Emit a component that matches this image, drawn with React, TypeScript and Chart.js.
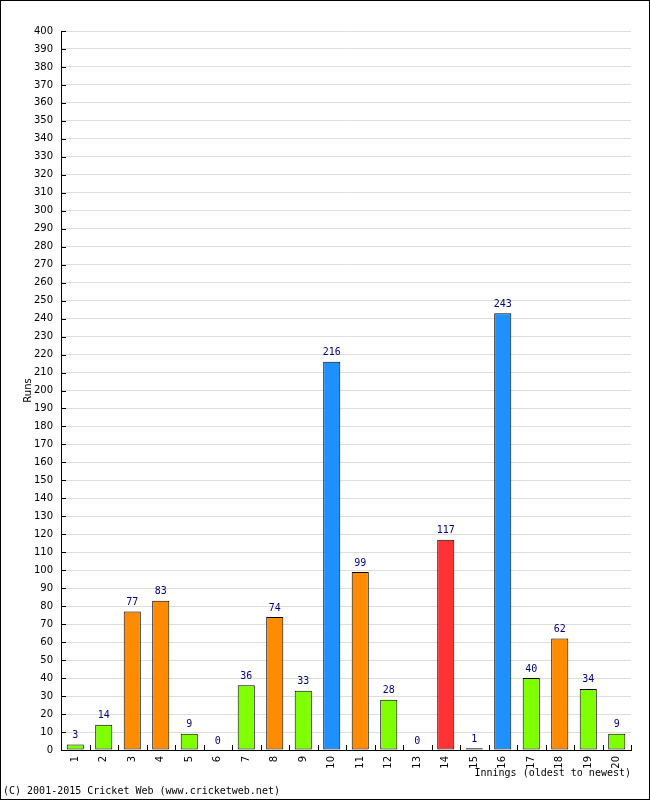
import React, { useEffect, useRef } from "react";
import { Chart, registerables } from "chart.js";

Chart.register(...registerables);

const innings: string[] = ["1", "2", "3", "4", "5", "6", "7", "8", "9", "10", "11", "12", "13", "14", "15", "16", "17", "18", "19", "20"];
const runs: number[] = [3, 14, 77, 83, 9, 0, 36, 74, 33, 216, 99, 28, 0, 117, 1, 243, 40, 62, 34, 9];
const yMin = 0;
const yMax = 400;
const yStep = 10;
const yAxisTitle = "Runs";
const xAxisTitle = "Innings (oldest to newest)";
const footerText = "(C) 2001-2015 Cricket Web (www.cricketweb.net)";

function barColor(v: number): string {
  if (v >= 200) return "#1E90FF";
  if (v >= 100) return "#FF3333";
  if (v >= 50) return "#FF8C00";
  return "#80FF00";
}

const marksPlugin = {
  id: "marks",
  afterDatasetsDraw(chart: any) {
    const ctx = chart.ctx;
    const xs = chart.scales.x;
    const ys = chart.scales.y;
    ctx.save();
    ctx.strokeStyle = "#000";
    ctx.lineWidth = 1;
    ctx.beginPath();
    ys.ticks.forEach((_t: any, i: number) => {
      const py = Math.round(ys.getPixelForTick(i)) + 0.5;
      ctx.moveTo(xs.left, py);
      ctx.lineTo(xs.left + 5, py);
    });
    for (let i = 0; i <= innings.length; i++) {
      const px = Math.round(xs.getPixelForValue(i - 0.5)) + 0.5;
      ctx.moveTo(px, ys.bottom);
      ctx.lineTo(px, ys.bottom - 5);
    }
    ctx.stroke();
    const meta = chart.getDatasetMeta(0);
    ctx.fillStyle = "#000080";
    ctx.font = '10px "DejaVu Sans Mono"';
    ctx.textAlign = "center";
    ctx.textBaseline = "bottom";
    meta.data.forEach((el: any, i: number) => {
      ctx.fillText(String(runs[i]), el.x, el.y - 4);
    });
    ctx.restore();
  },
};

export default function App() {
  const ref = useRef<HTMLCanvasElement | null>(null);
  useEffect(() => {
    document.body.style.margin = "0";
    const canvas = ref.current;
    if (!canvas) return;
    const chart = new Chart(canvas, {
      type: "bar",
      data: {
        labels: innings,
        datasets: [
          {
            data: runs,
            backgroundColor: runs.map(barColor),
            borderColor: "#000",
            borderWidth: runs.map((v) => (v === 0 ? 0 : 1)),
            borderSkipped: false,
            categoryPercentage: 1,
            barPercentage: 0.6,
          },
        ],
      },
      options: {
        responsive: false,
        animation: false,
        devicePixelRatio: 1,
        layout: { padding: { left: 2, right: 18, top: 30, bottom: 0 } },
        plugins: {
          legend: { display: false },
          tooltip: { enabled: false },
          subtitle: {
            display: true,
            text: footerText,
            position: "bottom",
            align: "start",
            color: "#000",
            font: { family: "DejaVu Sans Mono", size: 10, weight: "normal" },
            padding: { top: 4, bottom: 2 },
          },
        },
        scales: {
          x: {
            grid: { display: false, drawTicks: false },
            border: { color: "#000", width: 1 },
            ticks: {
              color: "#000",
              font: { family: "DejaVu Sans", size: 10 },
              minRotation: 90,
              maxRotation: 90,
              autoSkip: false,
              padding: 6,
            },
            title: {
              display: true,
              text: xAxisTitle,
              align: "end",
              color: "#000",
              font: { family: "DejaVu Sans Mono", size: 10 },
              padding: { top: 0, bottom: 2 },
            },
            afterFit: (scale: any) => {
              scale.height = 31;
            },
          },
          y: {
            min: yMin,
            max: yMax,
            grid: { color: "#dddddd", drawTicks: false },
            border: { color: "#000", width: 1 },
            ticks: {
              stepSize: yStep,
              autoSkip: false,
              color: "#000",
              font: { family: "DejaVu Sans", size: 10 },
              padding: 8,
            },
            title: {
              display: true,
              text: yAxisTitle,
              color: "#000",
              font: { family: "DejaVu Sans", size: 10 },
              padding: { top: 19, bottom: 0 },
            },
            afterFit: (scale: any) => {
              scale.width = 58;
            },
          },
        },
      },
      plugins: [marksPlugin],
    });
    return () => chart.destroy();
  }, []);
  return (
    <div style={{ width: 650, height: 800, border: "1px solid #000", boxSizing: "border-box", background: "#fff" }}>
      <canvas ref={ref} width={648} height={798} style={{ display: "block" }} />
    </div>
  );
}
